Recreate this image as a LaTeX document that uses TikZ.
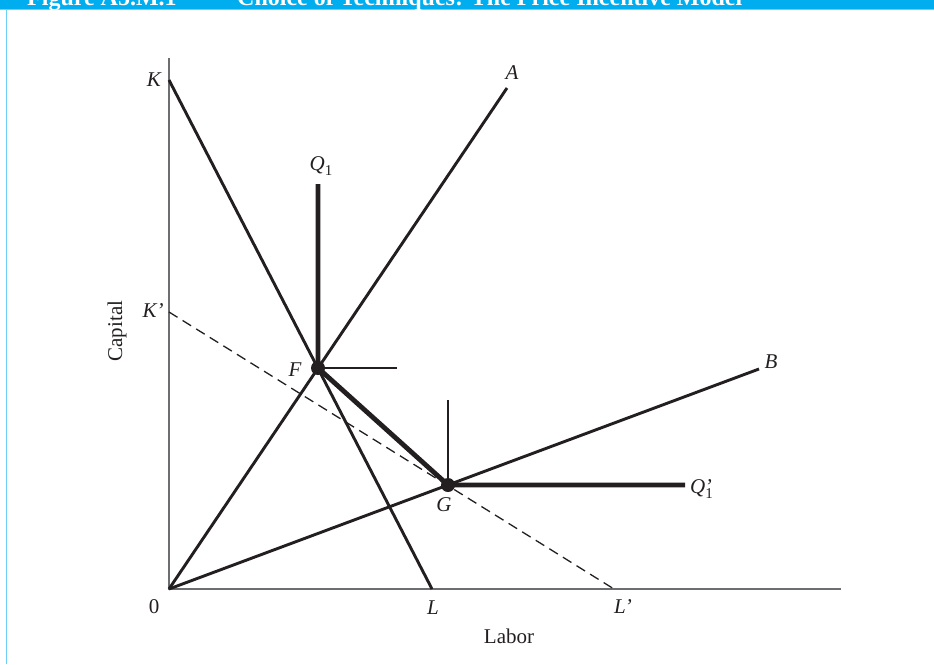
\documentclass[tikz,border=0pt]{standalone}
\usepackage{fontspec}
\setmainfont{Liberation Serif}
\definecolor{ink}{HTML}{231F20}
\definecolor{axisgray}{HTML}{6D6E71}
\definecolor{bannerblue}{HTML}{00AEEF}
\definecolor{bannerline}{HTML}{6DCFF6}
\tikzset{
  axisline/.style={axisgray, line width=2.5pt},
  thinline/.style={ink, line width=2.9pt},
  hairline/.style={ink, line width=1.5pt},
  thickline/.style={ink, line width=4.8pt},
  dashline/.style={ink, line width=1.3pt, dash pattern=on 10pt off 6pt},
  ptlabel/.style={inner sep=0pt, font=\fontsize{21}{24}\selectfont\itshape, text=ink},
  axislabel/.style={inner sep=0pt, font=\fontsize{21}{24}\selectfont, text=ink},
  dotpt/.style={circle, fill=ink, inner sep=0pt, minimum size=14pt}
}
\begin{document}
\begin{tikzpicture}[x=1pt,y=-1pt]
\useasboundingbox (0,0) rectangle (934,664);
\clip (0,0) rectangle (934,664);
% banner
\fill[bannerblue] (0,0) rectangle (934,9);
\draw[bannerline, line width=1.2pt] (0,9.6) -- (934,9.6);
\draw[bannerline, line width=1.5pt] (6.5,9) -- (6.5,664);
\node[anchor=base west, inner sep=0pt, text=white, font=\fontsize{24}{26}\selectfont\bfseries] (fignum) at (27,5) {Figure A5.M.1};
\node[anchor=base west, inner sep=0pt, text=white, font=\fontsize{24}{26}\selectfont\bfseries] (figtitle) at (237,5) {Choice of Techniques: The Price Incentive Model};
% coordinates
\coordinate (O) at (169,589);
\coordinate (Ytop) at (169,58);
\coordinate (Xend) at (841,589);
\coordinate (K) at (169,80);
\coordinate (L) at (432,589);
\coordinate (Kp) at (169,312);
\coordinate (Lp) at (614,589);
\coordinate (A) at (507,88);
\coordinate (B) at (759,369);
\coordinate (F) at (318,368);
\coordinate (G) at (448,485);
\coordinate (Qtop) at (318,184);
\coordinate (Fright) at (397,368);
\coordinate (Gtop) at (448,400);
\coordinate (Qright) at (685,485);
% axes
\draw[axisline] (Ytop) -- (O) -- (Xend);
% dashed budget line
\draw[dashline] (Kp) -- (Lp);
% rays and budget line
\draw[thinline] (O) -- (A);
\draw[thinline] (O) -- (B);
\draw[thinline] (K) -- (L);
% isoquant
\draw[hairline] (F) -- (Fright);
\draw[hairline] (G) -- (Gtop);
\draw[thickline] (Qtop) -- (F) -- (G) -- (Qright);
\node[dotpt] (Fdot) at (F) {};
\node[dotpt] (Gdot) at (G) {};
% labels
\node[ptlabel] (lK) at (154,80) {K};
\node[ptlabel] (lKp) at (153,311) {K’};
\node[ptlabel] (lL) at (433,608) {L};
\node[ptlabel] (lLp) at (623,607) {L’};
\node[axislabel] (l0) at (154,607) {0};
\node[ptlabel] (lA) at (512,73) {A};
\node[ptlabel] (lB) at (771,362) {B};
\node[ptlabel] (lF) at (295,370) {F};
\node[ptlabel] (lG) at (444,505) {G};
\node[ptlabel] (lQ) at (321,166) {Q\raisebox{-0.45ex}{\upshape\fontsize{15}{15}\selectfont 1}};
\node[ptlabel, anchor=west] (lQp) at (690,489) {Q\raisebox{-0.45ex}{\upshape\fontsize{15}{15}\selectfont 1}\llap{’\hspace{1pt}}};
\node[axislabel, rotate=90] (lCap) at (117,331) {Capital};
\node[axislabel] (lLab) at (509,636) {Labor};
\end{tikzpicture}
\end{document}
